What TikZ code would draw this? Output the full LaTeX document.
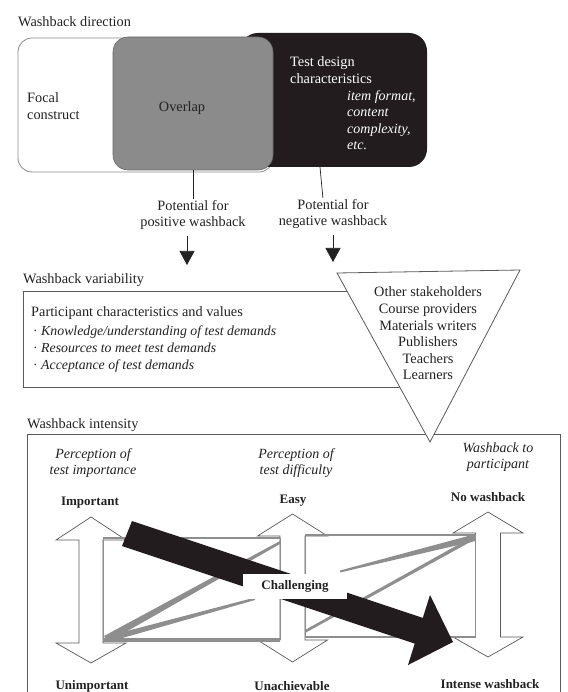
\documentclass[tikz,border=0pt]{standalone}
\usepackage{fontspec}
\setmainfont{Liberation Serif}
\usetikzlibrary{arrows.meta}
\definecolor{darkbox}{HTML}{221C1E}
\definecolor{overlapgray}{HTML}{8B8B8B}
\definecolor{wedgegray}{HTML}{8E8E8E}
\definecolor{linegray}{HTML}{5A5A5A}
\definecolor{inkcol}{HTML}{222222}
\newcommand{\wbdouble}[7]{%
  \draw[dbl] (#1,#2) -- ({#1+#6},#3) -- ({#1+#7},#3) -- ({#1+#7},#4) -- ({#1+#6},#4) -- (#1,#5)
     -- ({#1-#6},#4) -- ({#1-#7},#4) -- ({#1-#7},#3) -- ({#1-#6},#3) -- cycle;}
\tikzset{
  txt/.style={font=\fontsize{14.3}{16.6}\selectfont, inner sep=0pt, text=inkcol},
  itxt/.style={font=\fontsize{14}{16.4}\selectfont\itshape, inner sep=0pt, text=inkcol},
  btxt/.style={font=\fontsize{13}{15}\selectfont\bfseries, inner sep=0pt, text=inkcol},
  frame/.style={draw=linegray, line width=0.8pt},
  dbl/.style={draw=linegray, line width=0.7pt, fill=white},
  wedge/.style={fill=wedgegray},
  rectedge/.style={draw=wedgegray},
  connector/.style={draw=inkcol, line width=0.7pt},
  smallarrow/.style={draw=inkcol, line width=0.7pt, -{Triangle[width=15pt,length=14pt]}},
}
\begin{document}
\begin{tikzpicture}[x=1pt,y=-1pt]
\useasboundingbox (0,0) rectangle (567,692);
\fill[white] (0,0) rectangle (567,692);

% ---------------- Washback direction ----------------
\node[txt, anchor=west] (t1) at (18,22) {Washback direction};
\node[draw=linegray!70, line width=0.8pt, fill=white, rounded corners=14pt,
      minimum width=255pt, minimum height=134pt] (focal) at (145.5,105) {};
\node[fill=darkbox, rounded corners=18pt, minimum width=187pt, minimum height=134pt] (design) at (333.5,100) {};
\node[fill=overlapgray, draw=overlapgray!75!black, line width=0.6pt, rounded corners=15pt,
      minimum width=160pt, minimum height=133pt] (overlap) at (193,103.5) {};
\node[txt, anchor=west, align=left] (focaltext) at (27,106) {Focal\\construct};
\node[txt] (overlaptext) at (182,108) {Overlap};
\node[txt, text=white, anchor=west, align=left] (designtext) at (290,70) {Test design\\characteristics};
\node[itxt, text=white, anchor=west, align=left] (items) at (347,120) {item format,\\content\\complexity,\\etc.};

\node[txt, align=center] (pos) at (193,215) {Potential for\\positive washback};
\node[txt, align=center] (neg) at (333,214) {Potential for\\negative washback};
\coordinate (posend) at (187,265);
\coordinate (negend) at (333,262);
\draw[connector, shorten >=1pt] (overlap.south) -- (pos.north);
\draw[connector, shorten >=1pt] ([xshift=-13.5pt]design.south) -- ([xshift=-10pt]neg.north);
\draw[smallarrow, shorten <=6pt] (pos.south -| posend) -- (posend);
\draw[smallarrow, shorten <=6pt] (neg.south -| negend) -- (negend);

% ---------------- Washback variability ----------------
\node[txt, anchor=west] (t2) at (23,280) {Washback variability};
\node[frame, anchor=north west, minimum width=397pt, minimum height=96pt, inner sep=0pt] (varbox) at (23,291) {};
\node[txt, anchor=west] (pchar) at (31,313) {Participant characteristics and values};
\node[itxt, anchor=west, align=left, font=\fontsize{13.8}{16.8}\selectfont\itshape] (bul) at (33,349)
  {\upshape·\ \itshape Knowledge/understanding of test demands\\\upshape·\ \itshape Resources to meet test demands\\\upshape·\ \itshape Acceptance of test demands};

% ---------------- Washback intensity ----------------
\node[txt, anchor=west] (t3) at (27,425) {Washback intensity};
\draw[frame] (27,692) -- (27,434) -- (560,434) -- (560,692);

\node[itxt, align=center] (h1) at (93,463) {Perception of\\test importance};
\node[itxt, align=center] (h2) at (296,463) {Perception of\\test difficulty};
\node[itxt, align=center] (h3) at (498,457) {Washback to\\participant};
\node[btxt] (imp) at (90,503) {Important};
\node[btxt] (easy) at (293,501) {Easy};
\node[btxt] (nowb) at (488,497) {No washback};
\node[btxt] (unimp) at (92,686) {Unimportant};
\node[btxt] (unach) at (292,686) {Unachievable};
\node[btxt] (intense) at (490,684) {Intense washback};

% double arrows
\wbdouble{91}{517}{540}{643}{663}{35}{12}
\wbdouble{292.5}{514}{536}{640}{662}{35}{12.5}
\wbdouble{488}{512}{533}{637}{657}{35}{12.5}

% rectangles between the arrows
\draw[rectedge, line width=0.9pt] (103,538) -- (103,640) (280,538) -- (280,640);
\draw[rectedge, line width=2.5pt] (103,538) -- (280,538);
\draw[rectedge, line width=4pt] (103,640) -- (280,640);
\draw[rectedge, line width=0.9pt] (305,535) -- (305,637) (475.5,535) -- (475.5,637);
\draw[rectedge, line width=2.5pt] (305,535) -- (475.5,535);
\draw[rectedge, line width=1.2pt] (305,637) -- (475.5,637);

% gray wedges
\fill[wedge] (104,636) -- (280,541) -- (280,544) -- (110,641) -- cycle;
\fill[wedge] (104,637) -- (255,597.5) -- (255,600) -- (112,641) -- cycle;
\fill[wedge] (475.5,534) -- (340,570.5) -- (340,572.5) -- (475.5,541) -- cycle;
\fill[wedge] (475.5,535) -- (305,630) -- (305,633) -- (472,541) -- cycle;

% big black arrow
\fill[darkbox] (132,521) -- (422.8,617.9) -- (430,595) -- (453,642) -- (408,665) -- (414.7,643.6) -- (122,546) -- cycle;

\node[btxt, fill=white, minimum width=104pt, minimum height=25pt] (chal) at (295,586) {Challenging};

% triangle of stakeholders (drawn over the box lines)
\coordinate (tl) at (337,273);
\coordinate (tr) at (520,270);
\coordinate (ta) at (430,442);
\draw[frame, fill=white] (tl) -- (tr) -- (ta) -- cycle;
\node[txt, align=center] (stake) at (428,333.5) {Other stakeholders\\Course providers\\Materials writers\\Publishers\\Teachers\\Learners};
\end{tikzpicture}
\end{document}
